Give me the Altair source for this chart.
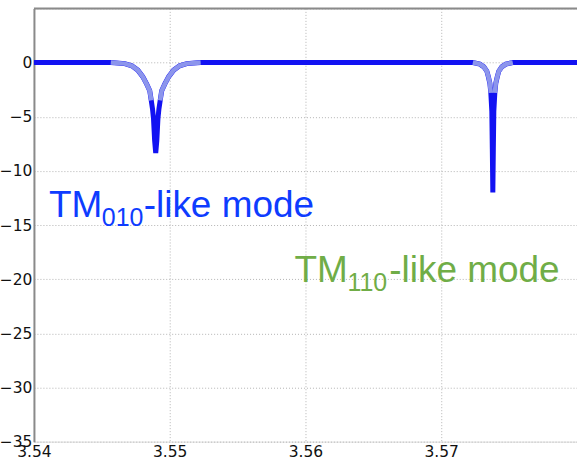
import altair as alt
import pandas as pd

freq = [
    3.5400, 3.5420, 3.5440, 3.5455,
    # first resonance (TM010-like)
    3.54566, 3.54669, 3.54721, 3.54765, 3.548014, 3.548308, 3.548529, 3.54864,
    3.548735, 3.548808, 3.54889, 3.54897, 3.54905, 3.549132, 3.549205, 3.5493,
    3.549411, 3.549632, 3.549926, 3.55029, 3.55073, 3.55125, 3.55228,
    3.5550, 3.5600, 3.5650, 3.5700, 3.5720,
    # second resonance (TM110-like)
    3.57233, 3.57284, 3.57314, 3.57336, 3.57347, 3.57358, 3.573653, 3.573727,
    3.573763, 3.5738, 3.573837, 3.573873, 3.573947, 3.57402, 3.57413, 3.57424,
    3.57446, 3.57476, 3.57527,
    3.5760, 3.5780, 3.5800,
]
gain_db = [
    0.0, 0.0, 0.0, 0.0,
    0.0, -0.1, -0.3, -0.7, -1.3, -2.0, -2.6, -3.5,
    -4.3, -5.2, -7.2, -8.35, -7.2, -5.2, -4.3, -3.5,
    -2.6, -2.0, -1.3, -0.7, -0.3, -0.1, 0.0,
    0.0, 0.0, 0.0, 0.0, 0.0,
    0.0, -0.15, -0.4, -0.8, -1.3, -1.9, -2.8, -4.5,
    -8.0, -12.0, -8.0, -4.5, -2.8, -1.9, -1.3, -0.8,
    -0.4, -0.15, 0.0,
    0.0, 0.0, 0.0,
]

x_ticks = [3.54, 3.55, 3.56, 3.57]
y_ticks = [5, 0, -5, -10, -15, -20, -25, -30, -35]

X_DOM = [3.54, 3.58]
Y_DOM = [-35, 5]

df = pd.DataFrame({"f": freq, "s": gain_db})

# shoulders of each dip (between the flat line and about -2.7 dB) get a paler tint;
# each shoulder run keeps its flat neighbour so it joins the trace seamlessly
shallow = [(-2.7 < v < 0) for v in gain_db]
rows, run_id = [], 0
i = 0
while i < len(gain_db):
    if shallow[i]:
        j = i
        while j < len(gain_db) and shallow[j]:
            j += 1
        lo, hi = max(i - 1, 0), min(j, len(gain_db) - 1)
        for k in range(lo, hi + 1):
            rows.append({"f": freq[k], "s": gain_db[k], "run": run_id})
        run_id += 1
        i = j
    else:
        i += 1
shoulder_df = pd.DataFrame(rows)

x_enc = alt.X(
    "f:Q",
    scale=alt.Scale(domain=X_DOM, nice=False, zero=False),
    axis=alt.Axis(
        values=x_ticks, format=".2f", title=None,
        grid=True, gridColor="#b4b4b4", gridDash=[1, 2], gridWidth=1,
        domain=False, ticks=False, labelPadding=3, labelFlush=False,
        labelFont="DejaVu Sans", labelFontSize=15.5, labelColor="#111",
    ),
)
y_enc = alt.Y(
    "s:Q",
    scale=alt.Scale(domain=Y_DOM, nice=False, zero=False),
    axis=alt.Axis(
        values=y_ticks, title=None,
        grid=True, gridColor="#b4b4b4", gridDash=[1, 2], gridWidth=1,
        domain=True, domainColor="#8a8a8a", domainWidth=2,
        ticks=False, labelPadding=2, labelFlush=False,
        labelExpr="datum.value > 0 ? '' : datum.label",
        labelFont="DejaVu Sans", labelFontSize=15.5, labelColor="#111",
    ),
)

trace = alt.Chart(df).mark_line(color="#1212f2", strokeWidth=5).encode(x=x_enc, y=y_enc)

shoulders = alt.Chart(shoulder_df).mark_line(
    color="#8c95ec", strokeWidth=4.5
).encode(x="f:Q", y="s:Q", detail="run:N")

# top frame line at the upper limit of the y range
top_line = alt.Chart(pd.DataFrame({"f": X_DOM, "s": [Y_DOM[1], Y_DOM[1]]})).mark_line(
    color="#8a8a8a", strokeWidth=2
).encode(x="f:Q", y="s:Q")


# mode annotations, each split into base text, subscript and remainder
def mode_label(x0, y0, sub, color, dx_sub, dx_rest):
    base = pd.DataFrame({"f": [x0], "s": [y0]})
    big = dict(font="Liberation Sans", fontSize=37, color=color, align="left", baseline="alphabetic")
    t1 = alt.Chart(base).mark_text(text="TM", **big).encode(x="f:Q", y="s:Q")
    t2 = alt.Chart(base).mark_text(
        text=sub, font="Liberation Sans", fontSize=25, color=color,
        align="left", baseline="alphabetic", dx=dx_sub, dy=9,
    ).encode(x="f:Q", y="s:Q")
    t3 = alt.Chart(base).mark_text(text="-like mode", dx=dx_rest, **big).encode(x="f:Q", y="s:Q")
    return t1 + t2 + t3


label_a = mode_label(3.54110, -14.3, "010", "#0e3cff", 53, 95)
label_b = mode_label(3.55919, -20.3, "110", "#70ad47", 53, 95)

chart = (
    alt.layer(top_line, trace, shoulders, label_a, label_b)
    .properties(width=544, height=434, padding={"left": 34, "top": 8, "right": 0, "bottom": 19},
                autosize=alt.AutoSizeParams(type="none"))
    .configure_view(stroke=None)
    .configure(background="white")
)

chart.save("out.html", embed_options={"renderer": "svg", "actions": False})
